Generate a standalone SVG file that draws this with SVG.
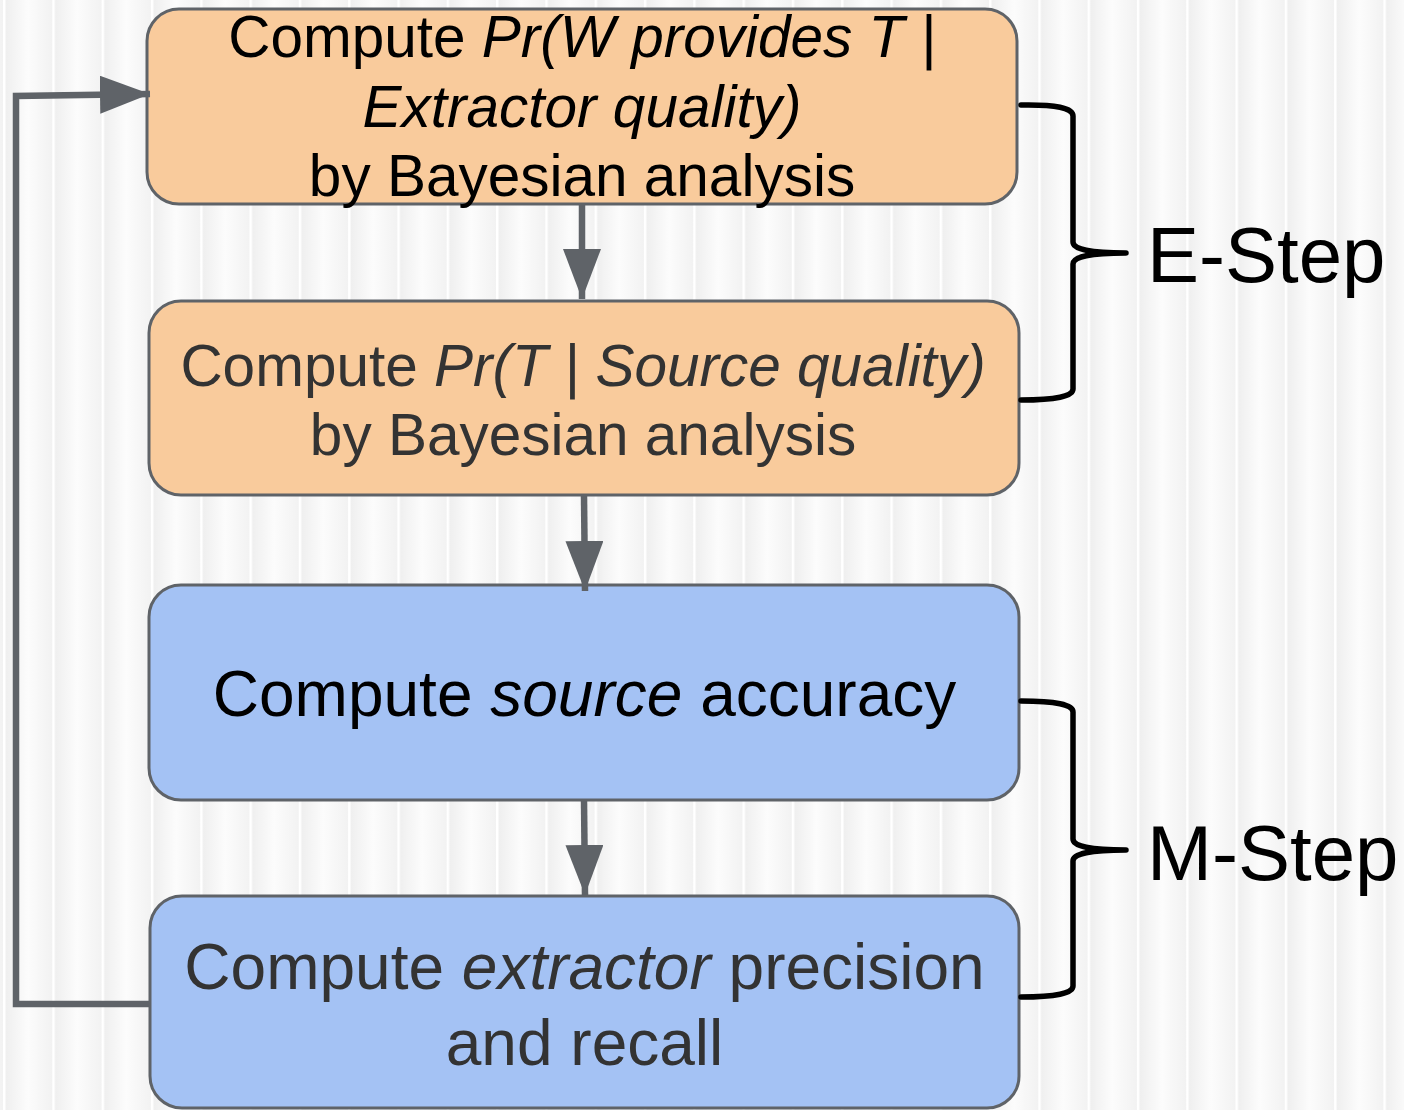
<svg xmlns="http://www.w3.org/2000/svg" width="1404" height="1110" viewBox="0 0 1404 1110">
  <defs>
    <linearGradient id="stripeGrad" x1="0" y1="0" x2="1" y2="0">
      <stop offset="0" stop-color="#ffffff"/>
      <stop offset="0.04" stop-color="#ffffff"/>
      <stop offset="0.06" stop-color="#efefef"/>
      <stop offset="0.5" stop-color="#fcfcfc"/>
      <stop offset="1" stop-color="#f2f2f2"/>
    </linearGradient>
    <pattern id="stripes" patternUnits="userSpaceOnUse" x="3" y="0" width="49.3" height="1110">
      <rect x="0" y="0" width="49.3" height="1110" fill="url(#stripeGrad)"/>
    </pattern>
    <marker id="arrow" viewBox="0 0 50 38" refX="50" refY="19" markerWidth="50" markerHeight="38" markerUnits="userSpaceOnUse" orient="auto">
      <path d="M0,0 L50,19 L0,38 Z" fill="#5f6368"/>
    </marker>
  </defs>
  <style>
    .box { stroke: #5f6368; stroke-width: 3; }
    .peach { fill: #f9cb9c; }
    .blue { fill: #a4c2f4; }
    .t { font-family: "Liberation Sans", Arial, sans-serif; font-size: 58.5px; text-anchor: middle; }
    .big { font-size: 64px; }
    .dark { fill: #333333; }
    .black { fill: #000000; }
    .i { font-style: italic; }
    .conn { stroke: #5f6368; stroke-width: 6.5; fill: none; }
    .brace { stroke: #000000; stroke-width: 5.5; fill: none; stroke-linecap: round; stroke-linejoin: round; }
    .label { font-family: "Liberation Sans", Arial, sans-serif; font-size: 78px; fill: #000000; }
  </style>

  <rect x="0" y="0" width="1404" height="1110" fill="url(#stripes)"/>

  <g id="node-e1">
    <rect class="box peach" x="147" y="9" width="870" height="195" rx="32" ry="32"/>
    <text class="t black" x="582" y="57">Compute <tspan class="i">Pr(W provides T |</tspan></text>
    <text class="t black i" x="582" y="127">Extractor quality)</text>
    <text class="t black" x="582" y="196">by Bayesian analysis</text>
  </g>

  <g id="node-e2">
    <rect class="box peach" x="149" y="301" width="870" height="194" rx="32" ry="32"/>
    <text class="t dark" x="583" y="386">Compute <tspan class="i">Pr(T | Source quality)</tspan></text>
    <text class="t dark" x="583" y="455">by Bayesian analysis</text>
  </g>

  <g id="node-m1">
    <rect class="box blue" x="149" y="585" width="870" height="215" rx="32" ry="32"/>
    <text class="t big black" x="584.5" y="716">Compute <tspan class="i">source</tspan> accuracy</text>
  </g>

  <g id="node-m2">
    <rect class="box blue" x="150" y="896" width="869" height="212" rx="32" ry="32"/>
    <text class="t big dark" x="584.5" y="989">Compute <tspan class="i">extractor</tspan> precision</text>
    <text class="t big dark" x="584.5" y="1065">and recall</text>
  </g>

  <g id="connectors">
    <path class="conn" d="M582,204 L582,299" marker-end="url(#arrow)"/>
    <path class="conn" d="M584,495 L585,591" marker-end="url(#arrow)"/>
    <path class="conn" d="M584,800 L585,895" marker-end="url(#arrow)"/>
    <path class="conn" d="M150,1004 L16,1004 L16,96 L150,94" marker-end="url(#arrow)"/>
  </g>

  <g id="e-step">
    <path class="brace" d="M1021,105 Q1073,104 1073,116 L1073,242 Q1073,253 1126,253 Q1073,253 1073,264 L1073,389 Q1073,400 1021,400"/>
    <text class="label" x="1147" y="282">E-Step</text>
  </g>

  <g id="m-step">
    <path class="brace" d="M1021,701 Q1073,701 1073,712 L1073,839 Q1073,850 1126,850 Q1073,850 1073,861 L1073,986 Q1073,997 1021,997"/>
    <text class="label" x="1147" y="880">M-Step</text>
  </g>
</svg>
